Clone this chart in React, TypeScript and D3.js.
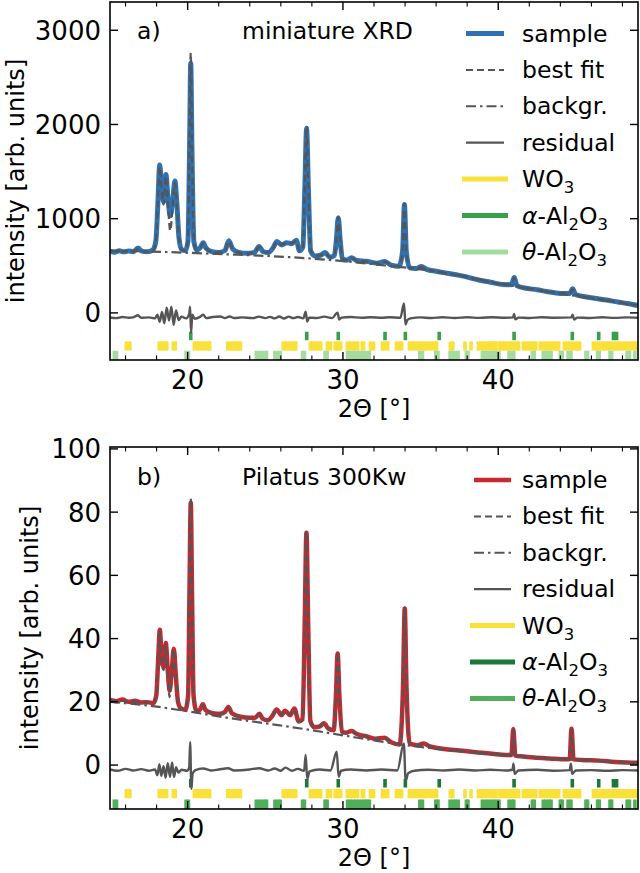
import React from "react";
import * as d3 from "d3";

type Pt = [number, number];

// 2-theta axis
const xTicks = [20, 30, 40];
const xMinor = [16, 18, 22, 24, 26, 28, 32, 34, 36, 38, 42, 44, 46, 48];
const yTicksA = [0, 1000, 2000, 3000];
const yTicksB = [0, 20, 40, 60, 80, 100];

// panel a) miniature XRD
const sampleA: Pt[] = [
  [15.0, 655], [15.3, 645], [15.6, 660], [15.9, 648], [16.2, 658], [16.5, 650], [16.8, 688], [17.05, 655],
  [17.4, 648], [17.75, 668], [17.95, 760], [18.08, 1150], [18.2, 1570], [18.32, 1350], [18.45, 1180],
  [18.6, 1470], [18.74, 1200], [18.88, 1030], [19.04, 1200], [19.18, 1400], [19.3, 1180], [19.44, 800],
  [19.6, 675], [19.85, 662], [20.02, 760], [20.12, 1700], [20.2, 2650], [20.28, 1700], [20.4, 760],
  [20.58, 668], [20.8, 690], [21.0, 745], [21.18, 688], [21.5, 652], [22.0, 640], [22.4, 662], [22.65, 765],
  [22.9, 680], [23.3, 642], [23.8, 632], [24.3, 642], [24.6, 705], [24.85, 652], [25.2, 640], [25.5, 690],
  [25.75, 758], [26.05, 722], [26.38, 745], [26.7, 735], [27.0, 772], [27.2, 660], [27.42, 700],
  [27.55, 1350], [27.66, 1960], [27.77, 1350], [27.92, 660], [28.2, 605], [28.55, 612], [28.85, 640],
  [29.15, 592], [29.45, 610], [29.58, 780], [29.7, 1010], [29.82, 780], [29.96, 575], [30.25, 560],
  [30.55, 585], [30.9, 556], [31.5, 548], [32.2, 528], [32.7, 546], [33.1, 506], [33.6, 494], [33.84, 650],
  [33.96, 1150], [34.08, 650], [34.3, 478], [34.7, 470], [35.05, 492], [35.4, 462], [36.0, 442], [36.7, 421],
  [37.5, 398], [38.2, 372], [38.8, 346], [39.5, 326], [40.3, 302], [40.85, 300], [41.03, 375], [41.2, 290],
  [41.7, 264], [42.5, 246], [43.1, 228], [44.0, 207], [44.6, 206], [44.79, 255], [44.98, 196], [45.5, 174],
  [46.2, 156], [47.0, 136], [47.7, 116], [48.3, 100], [49.0, 78],
];
const fitA: Pt[] = [
  [15.0, 656], [15.6, 654], [16.2, 652], [16.5, 652], [16.8, 680], [17.05, 654], [17.4, 650], [17.75, 660],
  [17.95, 760], [18.08, 1150], [18.2, 1550], [18.32, 1330], [18.45, 1150], [18.6, 1450], [18.74, 1130],
  [18.88, 870], [19.04, 1150], [19.18, 1380], [19.3, 1160], [19.44, 790], [19.6, 672], [19.85, 660],
  [20.02, 780], [20.12, 1760], [20.2, 2760], [20.28, 1760], [20.4, 770], [20.58, 666], [20.8, 685],
  [21.0, 740], [21.18, 685], [21.5, 650], [22.0, 642], [22.4, 660], [22.65, 760], [22.9, 678], [23.3, 640],
  [23.8, 632], [24.3, 640], [24.6, 700], [24.85, 650], [25.2, 640], [25.5, 688], [25.75, 752], [26.05, 725],
  [26.38, 742], [26.7, 738], [27.0, 765], [27.2, 662], [27.42, 700], [27.55, 1360], [27.66, 1975],
  [27.77, 1360], [27.92, 662], [28.2, 606], [28.55, 610], [28.85, 636], [29.15, 594], [29.45, 610],
  [29.58, 785], [29.7, 1015], [29.82, 785], [29.96, 576], [30.25, 560], [30.55, 582], [30.9, 556],
  [31.5, 546], [32.2, 528], [32.7, 544], [33.1, 506], [33.6, 494], [33.84, 655], [33.96, 1160], [34.08, 655],
  [34.3, 478], [34.7, 470], [35.05, 490], [35.4, 462], [36.0, 442], [36.7, 421], [37.5, 398], [38.2, 372],
  [38.8, 346], [39.5, 326], [40.3, 302], [40.85, 300], [41.03, 372], [41.2, 290], [41.7, 264], [42.5, 246],
  [43.1, 228], [44.0, 207], [44.6, 206], [44.79, 252], [44.98, 196], [45.5, 174], [46.2, 156], [47.0, 136],
  [47.7, 116], [48.3, 100], [49.0, 78],
];
const bgA: Pt[] = [
  [15, 660], [17.5, 652], [20, 638], [22.5, 622], [25, 605], [27.5, 582], [30, 550], [32.5, 508],
  [35, 462], [37.5, 400], [40, 315], [42.5, 245], [45, 180], [47.5, 115], [49, 75],
];
const residA: Pt[] = [
  [15, -48], [15.4, -55], [15.8, -44], [16.2, -52], [16.5, -47], [16.8, -25], [17.0, -52], [17.5, -48],
  [17.9, -58], [18.05, -20], [18.2, -95], [18.35, 10], [18.5, -110], [18.65, 55], [18.8, -80], [18.95, 65],
  [19.1, -127], [19.25, 25], [19.42, -75], [19.6, -40], [19.9, -58], [20.1, -10], [20.16, 67], [20.22, -210],
  [20.3, -20], [20.45, -62], [20.8, -42], [21.0, -20], [21.2, -55], [21.6, -44], [22.1, -38], [22.4, -55],
  [22.7, -38], [23.0, -54], [23.5, -48], [24.2, -55], [24.6, -40], [25.0, -56], [25.3, -42], [25.6, -58],
  [25.9, -38], [26.2, -60], [26.5, -40], [26.8, -56], [27.1, -44], [27.45, -58], [27.6, 14], [27.7, -92],
  [27.82, -50], [28.3, -54], [28.8, -40], [29.3, -55], [29.65, 3], [29.76, -70], [29.9, -50], [30.5, -44],
  [31.2, -52], [31.8, -46], [32.5, -52], [33.0, -46], [33.7, -52], [33.93, 100], [34.03, -125], [34.15, -75],
  [34.35, -58], [35.0, -48], [35.7, -54], [36.4, -46], [37.2, -54], [38.0, -47], [38.8, -53], [39.6, -46],
  [40.4, -52], [40.95, -48], [41.02, -12], [41.1, -68], [41.3, -50], [42.0, -54], [42.8, -46], [43.6, -52],
  [44.7, -48], [44.79, -18], [44.88, -70], [45.1, -50], [45.9, -54], [46.7, -47], [47.5, -53], [48.3, -48],
  [49, -52],
];

// panel b) Pilatus 300Kw
const sampleB: Pt[] = [
  [15.0, 20.6], [15.4, 20.2], [15.8, 20.7], [16.2, 20.0], [16.6, 20.3], [17.0, 19.8], [17.4, 19.9],
  [17.8, 19.6], [17.98, 22], [18.1, 33], [18.21, 42.8], [18.33, 33], [18.45, 31], [18.59, 38.6], [18.72, 30],
  [18.84, 23.5], [18.98, 30], [19.11, 36.8], [19.23, 29], [19.38, 20], [19.55, 18], [19.85, 17.5],
  [20.03, 22], [20.12, 55], [20.2, 83], [20.28, 55], [20.38, 22], [20.58, 17], [20.8, 17.6], [20.98, 19.2],
  [21.15, 17.4], [21.6, 16.4], [22.1, 16.2], [22.4, 16.8], [22.62, 18.4], [22.85, 16.4], [23.4, 15.3],
  [24.0, 15.0], [24.35, 15.0], [24.62, 16.2], [24.85, 14.6], [25.15, 14.2], [25.45, 15.5], [25.73, 17.6],
  [26.05, 15.8], [26.27, 17.2], [26.6, 15.8], [26.87, 17.9], [27.15, 13.8], [27.4, 14.5], [27.54, 45],
  [27.65, 73.5], [27.76, 45], [27.9, 14], [28.15, 12], [28.5, 12.2], [28.78, 13.2], [29.05, 11.6],
  [29.4, 11], [29.55, 22], [29.66, 35.3], [29.77, 22], [29.93, 10.6], [30.2, 10.2], [30.56, 10.8],
  [30.9, 9.8], [31.5, 9.1], [32.1, 8.3], [32.68, 8.6], [33.1, 7.2], [33.65, 6.5], [33.87, 25], [33.98, 49.5],
  [34.09, 25], [34.3, 6.8], [34.8, 6.3], [35.2, 6.8], [35.6, 5.9], [36.5, 5.1], [37.5, 4.6], [38.7, 4.0],
  [39.6, 3.6], [40.5, 3.2], [40.85, 3.2], [40.97, 11.4], [41.1, 3.0], [41.6, 2.7], [42.3, 2.4], [43.3, 2.1],
  [44.4, 1.8], [44.6, 1.9], [44.72, 11.5], [44.85, 1.8], [45.4, 1.6], [46.5, 1.4], [47.5, 1.0], [48.3, 0.8],
  [49.0, 0.7],
];
const fitB: Pt[] = [
  [15.0, 20.4], [15.8, 20.3], [16.6, 20.1], [17.4, 19.8], [17.8, 19.6], [17.98, 22], [18.1, 33],
  [18.21, 42.5], [18.33, 32], [18.45, 30], [18.59, 38.2], [18.72, 28], [18.84, 21.5], [18.98, 29],
  [19.11, 36.5], [19.23, 28.5], [19.38, 19.8], [19.55, 18], [19.85, 17.5], [20.03, 22.5], [20.12, 56],
  [20.2, 84.5], [20.28, 56], [20.38, 22.5], [20.58, 17], [20.8, 17.5], [20.98, 19], [21.15, 17.4],
  [21.6, 16.4], [22.1, 16.2], [22.4, 16.7], [22.62, 18.2], [22.85, 16.4], [23.4, 15.3], [24.0, 15.0],
  [24.35, 15.0], [24.62, 16.0], [24.85, 14.6], [25.15, 14.2], [25.45, 15.4], [25.73, 17.4], [26.05, 15.9],
  [26.27, 17.0], [26.6, 15.9], [26.87, 17.7], [27.15, 13.8], [27.4, 14.5], [27.54, 45.5], [27.65, 74],
  [27.76, 45.5], [27.9, 14], [28.15, 12], [28.5, 12.2], [28.78, 13.1], [29.05, 11.6], [29.4, 11],
  [29.55, 22.2], [29.66, 35.6], [29.77, 22.2], [29.93, 10.6], [30.2, 10.2], [30.56, 10.7], [30.9, 9.8],
  [31.5, 9.1], [32.1, 8.3], [32.68, 8.5], [33.1, 7.2], [33.65, 6.5], [33.87, 25.2], [33.98, 49.8],
  [34.09, 25.2], [34.3, 6.8], [34.8, 6.3], [35.2, 6.7], [35.6, 5.9], [36.5, 5.1], [37.5, 4.6], [38.7, 4.0],
  [39.6, 3.6], [40.5, 3.2], [40.85, 3.2], [40.97, 11.2], [41.1, 3.0], [41.6, 2.7], [42.3, 2.4], [43.3, 2.1],
  [44.4, 1.8], [44.6, 1.9], [44.72, 11.3], [44.85, 1.8], [45.4, 1.6], [46.5, 1.4], [47.5, 1.0], [48.3, 0.8],
  [49.0, 0.7],
];
const bgB: Pt[] = [
  [15, 20.0], [17.5, 18.8], [20, 17.0], [22.5, 15.0], [25, 13.2], [27.5, 11.4], [30, 9.4], [32.5, 7.4],
  [35, 5.7], [37.5, 4.4], [40, 3.3], [42.5, 2.4], [45, 1.6], [47.5, 1.0], [49, 0.7],
];
const residB: Pt[] = [
  [15, -1.4], [15.5, -1.8], [16, -1.2], [16.5, -1.7], [17, -1.3], [17.5, -1.8], [17.9, -1.4], [18.05, -3.2],
  [18.18, 0.3], [18.3, -3.4], [18.45, -0.4], [18.58, -4.0], [18.72, 0.6], [18.86, -3.7], [19.0, 0.8],
  [19.12, -3.8], [19.26, -0.7], [19.4, -2.4], [19.6, -1.5], [19.95, -1.8], [20.1, -0.7], [20.16, 7.2],
  [20.24, -7.5], [20.32, -2.7], [20.5, -1.6], [21, -1.1], [21.5, -1.7], [22, -1.4], [22.6, -1.0], [23, -1.7],
  [24, -1.4], [24.6, -1.0], [25.2, -1.7], [25.6, -1.1], [26, -1.8], [26.3, -0.8], [26.7, -1.8], [27.1, -1.2],
  [27.5, -1.8], [27.6, 3.2], [27.7, -4.4], [27.85, -2.0], [28.5, -1.4], [29.2, -1.7], [29.6, 4.2],
  [29.72, -3.7], [29.88, -1.8], [30.5, -1.4], [31.5, -1.7], [32.5, -1.4], [33.5, -1.7], [33.92, 6.8],
  [34.04, -5.0], [34.2, -2.6], [34.6, -1.8], [35.5, -1.5], [36.5, -1.7], [37.5, -1.4], [38.5, -1.7],
  [39.5, -1.5], [40.5, -1.7], [40.92, -1.5], [40.98, 0.4], [41.06, -2.8], [41.3, -1.7], [42.5, -1.5],
  [43.5, -1.8], [44.6, -1.6], [44.68, 0.4], [44.76, -2.8], [45.0, -1.7], [46, -1.6], [47, -1.8], [48, -1.6],
  [49, -1.7],
];

// reference reflections
const wo3Pos = [
  16.05, 16.28, 18.17, 18.32, 18.5, 18.65, 19.08, 19.2,
  20.43, 20.6, 20.78, 20.95, 21.12, 21.3, 21.42,
  22.58, 22.76, 22.94, 23.12, 23.3, 23.4,
  26.16, 26.34, 26.52, 26.7, 26.88, 26.96,
  27.9, 28.08, 28.26, 28.44, 28.57, 29.0, 29.2, 29.5, 29.68, 29.85,
  30.28, 30.46, 30.64, 30.82, 30.95, 31.25, 31.33, 31.77, 31.97,
  32.54, 32.72, 32.88, 33.44, 33.62, 33.78,
  34.28, 34.46, 34.64, 34.82, 35.0, 35.18, 35.36, 35.54, 35.72, 35.9, 36.03,
  36.92, 37.07, 37.86, 38.25,
  38.72, 38.9, 39.08, 39.26, 39.44, 39.62, 39.8, 39.84,
  40.07, 40.25, 40.43, 40.61, 40.79, 40.97, 41.15, 41.31,
  41.62, 41.8, 41.98, 42.16, 42.34, 42.42,
  42.71, 42.89, 43.07, 43.25, 43.43, 43.61, 43.79, 43.89,
  44.26, 44.44, 44.62, 44.8, 44.98, 45.16, 45.24,
  46.13, 46.31, 46.49, 46.67, 46.85, 47.03, 47.21, 47.39, 47.57, 47.75, 47.93, 48.11, 48.29, 48.47,
  48.65, 48.83, 48.95,
];
const alphaPos = [20.2, 27.67, 29.7, 32.71, 34.02, 36.2, 41.02, 44.77, 46.47, 47.42, 47.62];
const thetaPos = [
  15.28, 15.42, 19.9, 20.05, 24.42, 24.6, 24.78, 24.96, 25.08, 25.62, 25.8, 25.96, 27.4, 27.52, 28.85, 28.98,
  30.3, 30.48, 30.66, 30.84, 31.02, 31.2, 31.38, 31.55, 31.7, 34.95, 35.12, 35.98, 36.12, 36.9, 37.08,
  37.26, 37.42, 37.95, 38.05, 38.98, 39.16, 39.34, 39.52, 39.7, 39.88, 40.05, 40.7, 40.88, 41.0, 42.2,
  42.32, 42.9, 43.08, 43.26, 43.4, 44.0, 44.12, 44.5, 44.68, 45.65, 45.75, 46.4, 46.5, 47.2, 47.3, 48.3,
  48.45, 48.8,
];

const FONT = "DejaVu Sans";
const GRAY = "#555555";
const YELLOW = "#f9e13a";

const sub = (s: string) => (
  <tspan dy={6} fontSize={16.5}>{s}</tspan>
);
const up = (s: string) => (
  <tspan dy={-6}>{s}</tspan>
);

interface PanelProps {
  top: number;
  bottom: number;
  yDomain: [number, number];
  yTicks: number[];
  sample: Pt[];
  fit: Pt[];
  bg: Pt[];
  resid: Pt[];
  rows: [number, number][]; // alpha, wo3, theta
  sampleColor: string;
  sampleWidth: number;
  alphaColor: string;
  thetaColor: string;
  tag: string;
  title: string;
  hx: [number, number];
  legendY: number;
  ylabelX: number;
  id: string;
}

const Panel: React.FC<PanelProps> = (p) => {
  const x = d3.scaleLinear().domain([15, 49]).range([110, 638]);
  const y = d3.scaleLinear().domain(p.yDomain).range([p.bottom, p.top]);
  const line = d3
    .line<Pt>()
    .x((d) => x(d[0]))
    .y((d) => y(d[1]))
    .curve(d3.curveMonotoneX);

  const [x0, x1] = x.range();
  const bars = (pos: number[], row: [number, number], color: string, key: string) =>
    pos.map((v, i) => (
      <rect
        key={key + i}
        x={x(v) - 1.8}
        width={3.6}
        y={y(row[1])}
        height={y(row[0]) - y(row[1])}
        fill={color}
      />
    ));

  const legend = [
    { label: "sample", stroke: p.sampleColor, w: p.sampleWidth, dash: "", wide: false },
    { label: "best fit", stroke: GRAY, w: 2, dash: "7,4", wide: false },
    { label: "backgr.", stroke: GRAY, w: 2, dash: "10,4,2.5,4", wide: false },
    { label: "residual", stroke: GRAY, w: 2.2, dash: "", wide: false },
    { label: "WO3", stroke: YELLOW, w: 5, dash: "", wide: true },
    { label: "alpha", stroke: p.alphaColor, w: 5, dash: "", wide: true },
    { label: "theta", stroke: p.thetaColor, w: 5, dash: "", wide: true },
  ];

  const labelText = (l: string) => {
    if (l === "WO3") return <>WO{sub("3")}</>;
    if (l === "alpha" || l === "theta")
      return (
        <>
          <tspan fontStyle="italic">{l === "alpha" ? "α" : "θ"}</tspan>-Al{sub("2")}
          {up("O")}
          {sub("3")}
        </>
      );
    return l;
  };

  return (
    <g fontFamily={FONT}>
      <defs>
        <clipPath id={p.id}>
          <rect x={x0} y={p.top} width={x1 - x0} height={p.bottom - p.top} />
        </clipPath>
      </defs>
      <g clipPath={`url(#${p.id})`}>
        {bars(alphaPos, p.rows[0], p.alphaColor, "a")}
        {bars(wo3Pos, p.rows[1], YELLOW, "w")}
        {bars(thetaPos, p.rows[2], p.thetaColor, "t")}
        <path d={line(p.sample) ?? ""} fill="none" stroke={p.sampleColor} strokeWidth={p.sampleWidth} strokeLinejoin="round" />
        <path d={line(p.bg) ?? ""} fill="none" stroke={GRAY} strokeWidth={2.2} strokeDasharray="10,4,2.5,4" />
        <path d={line(p.fit) ?? ""} fill="none" stroke={GRAY} strokeWidth={2.2} strokeDasharray="7,4" />
        <path d={line(p.resid) ?? ""} fill="none" stroke={GRAY} strokeWidth={2.4} strokeLinejoin="round" />
      </g>

      {/* frame and ticks (inward, all four sides) */}
      <rect x={x0} y={p.top} width={x1 - x0} height={p.bottom - p.top} fill="none" stroke="#000" strokeWidth={1.6} />
      {xTicks.map((t) => (
        <g key={"xt" + t}>
          <line x1={x(t)} x2={x(t)} y1={p.bottom} y2={p.bottom - 8} stroke="#000" strokeWidth={1.4} />
          <line x1={x(t)} x2={x(t)} y1={p.top} y2={p.top + 8} stroke="#000" strokeWidth={1.4} />
          <text x={x(t)} y={p.bottom + 29} fontSize={26} textAnchor="middle">
            {t}
          </text>
        </g>
      ))}
      {xMinor.map((t) => (
        <g key={"xm" + t}>
          <line x1={x(t)} x2={x(t)} y1={p.bottom} y2={p.bottom - 4.5} stroke="#000" strokeWidth={1.1} />
          <line x1={x(t)} x2={x(t)} y1={p.top} y2={p.top + 4.5} stroke="#000" strokeWidth={1.1} />
        </g>
      ))}
      {p.yTicks.map((t) => (
        <g key={"yt" + t}>
          <line x1={x0} x2={x0 + 8} y1={y(t)} y2={y(t)} stroke="#000" strokeWidth={1.4} />
          <line x1={x1} x2={x1 - 8} y1={y(t)} y2={y(t)} stroke="#000" strokeWidth={1.4} />
          <text x={101} y={y(t) + 9.4} fontSize={26} textAnchor="end">
            {t}
          </text>
        </g>
      ))}

      <text x={(x0 + x1) / 2} y={p.bottom + 57} fontSize={24} textAnchor="middle">
        2Θ [°]
      </text>
      <text
        transform={`translate(${p.ylabelX},${(p.top + p.bottom) / 2}) rotate(-90)`}
        fontSize={24}
        textAnchor="middle"
      >
        intensity [arb. units]
      </text>

      <text x={137} y={p.legendY + 5} fontSize={23.5}>
        {p.tag}
      </text>
      <text x={242} y={p.legendY + 5} fontSize={23.5}>
        {p.title}
      </text>

      {legend.map((e, i) => {
        const ly = p.legendY + i * 36.4;
        const [a, b] = e.wide ? [p.hx[0] - 4, p.hx[1] + 4] : p.hx;
        return (
          <g key={e.label}>
            <line x1={a} x2={b} y1={ly} y2={ly} stroke={e.stroke} strokeWidth={e.w} strokeDasharray={e.dash || undefined} />
            <text x={522} y={ly + 8} fontSize={23.5}>
              {labelText(e.label)}
            </text>
          </g>
        );
      })}
    </g>
  );
};

const App: React.FC = () => {
  return (
    <svg width={640} height={873} style={{ position: "absolute", left: 0, top: 0, background: "#fff" }}>
      <Panel
        id="clipA"
        top={2}
        bottom={360}
        yDomain={[-500, 3300]}
        yTicks={yTicksA}
        sample={sampleA}
        fit={fitA}
        bg={bgA}
        resid={residA}
        rows={[[-290, -200], [-400, -302], [-500, -402]]}
        sampleColor="#2f72b3"
        sampleWidth={5}
        alphaColor="#38a04c"
        thetaColor="#a6dba0"
        tag="a)"
        title="miniature XRD"
        hx={[466, 504]}
        legendY={33.5}
        ylabelX={24}
      />
      <Panel
        id="clipB"
        top={447}
        bottom={809}
        yDomain={[-13.9, 100.6]}
        yTicks={yTicksB}
        sample={sampleB}
        fit={fitB}
        bg={bgB}
        resid={residB}
        rows={[[-7.1, -4.4], [-10.5, -7.6], [-13.9, -10.9]]}
        sampleColor="#c9282e"
        sampleWidth={4.5}
        alphaColor="#1b7837"
        thetaColor="#52ae5a"
        tag="b)"
        title="Pilatus 300Kw"
        hx={[474, 511]}
        legendY={480}
        ylabelX={38}
      />
    </svg>
  );
};

export default App;
